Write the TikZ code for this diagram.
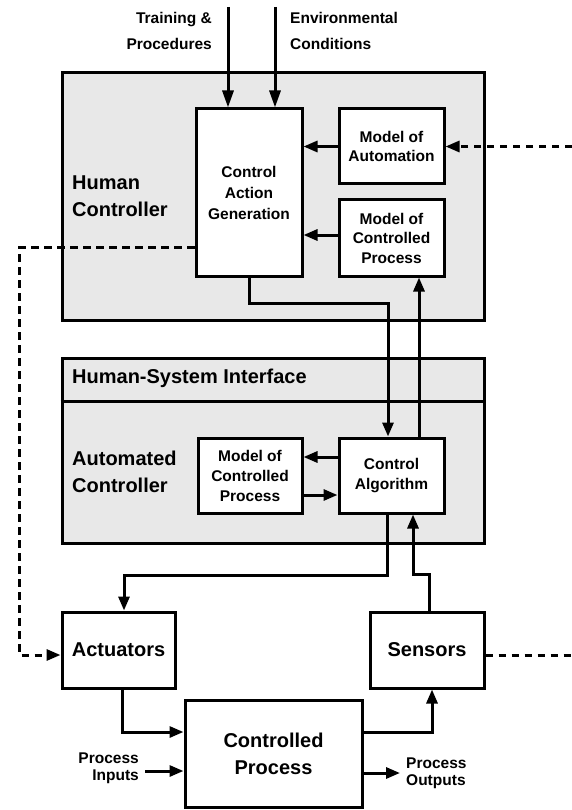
\documentclass[tikz,border=0pt]{standalone}
\usepackage{fontspec}
\setmainfont{Liberation Sans}
\usetikzlibrary{arrows.meta,calc}
\definecolor{panel}{RGB}{232,232,232}
\tikzset{
  panelbox/.style={draw, line width=3pt, fill=panel, inner sep=0pt},
  box/.style={draw, line width=3pt, fill=white, inner sep=0pt, align=center,
    font=\bfseries\fontsize{15.5}{19.5}\selectfont},
  bigbox/.style={box, font=\bfseries\fontsize{20}{26.7}\selectfont},
  biglabel/.style={inner sep=0pt, align=left, anchor=west,
    font=\bfseries\fontsize{20}{26.7}\selectfont},
  smalllabel/.style={inner sep=0pt, font=\bfseries\fontsize{15.5}{26}\selectfont},
  flow/.style={line width=3pt, -{Triangle[length=14pt,width=11pt]}},
  longflow/.style={line width=3pt, -{Triangle[length=17pt,width=11pt]}},
  dotflow/.style={line width=3pt, dash pattern=on 7.5pt off 5.5pt},
}
\begin{document}
\begin{tikzpicture}[x=1pt,y=-1pt]
\useasboundingbox (0,0) rectangle (572,810);

% controller panels
\node[panelbox, minimum width=422pt, minimum height=247pt] (hc) at (273,196.5) {};
\node[panelbox, minimum width=422pt, minimum height=185pt] (hsi) at (273,450.5) {};
\coordinate (div) at (0,401);
\draw[line width=3pt] (hsi.west |- div) -- (hsi.east |- div);

\node[biglabel] (hclab) at (72,196.5) {Human\\Controller};
\node[biglabel] (hsilab) at (72,378) {Human-System Interface};
\node[biglabel] (aclab) at (72,471.5) {Automated\\Controller};

% human controller internals
\node[box, minimum width=106pt, minimum height=167pt, font=\bfseries\fontsize{15.5}{21}\selectfont]
  (cag) at (249,192.5) {Control\\Action\\Generation};
\node[box, minimum width=105pt, minimum height=75pt] (moa) at (391.5,146.5) {Model of\\Automation};
\node[box, minimum width=105pt, minimum height=76pt] (mocp) at (391.5,238) {Model of\\Controlled\\Process};

% automated controller internals
\node[box, minimum width=104pt, minimum height=75pt, font=\bfseries\fontsize{15.5}{20}\selectfont]
  (amocp) at (250,475.5) {Model of\\Controlled\\Process};
\node[box, minimum width=105pt, minimum height=75pt] (ca) at (391.5,475.5) {Control\\Algorithm};

% plant
\node[bigbox, minimum width=113pt, minimum height=76pt] (act) at (118.5,650) {Actuators};
\node[bigbox, minimum width=114pt, minimum height=76pt] (sen) at (427,650) {Sensors};
\node[bigbox, minimum width=177pt, minimum height=107pt] (cp) at (273.5,753.5) {Controlled\\Process};

% external inputs to the human controller
\coordinate (tin) at (228,7);
\coordinate (ein) at (275,7);
\draw[longflow] (tin) -- (tin |- cag.north);
\draw[longflow] (ein) -- (ein |- cag.north);
\node[smalllabel, align=right, anchor=east] (tlab) at (212,31) {Training \&\\Procedures};
\node[smalllabel, align=left, anchor=west] (elab) at (290,31) {Environmental\\Conditions};

% human controller internal flows
\draw[flow] (moa.west) -- (moa.west -| cag.east);
\draw[flow] ([yshift=3pt]mocp.west) -- ([yshift=3pt]mocp.west -| cag.east);

% dotted side channels
\coordinate (redge) at (572,0);
\draw[dotflow, -{Triangle[length=14pt,width=11pt]}] (redge |- moa.east) -- (moa.east);
\draw[dotflow, -{Triangle[length=14pt,width=11pt]}]
  ([yshift=-54.5pt]cag.west) -- ++(-175,0) |- ([yshift=-5pt]act.west);
\draw[dotflow] ([yshift=-5pt]sen.east) -- ([yshift=-5pt]sen.east -| redge);

% human controller <-> automation
\draw[flow] (cag.south) -- ++(0,26) -| ([xshift=-3.5pt]ca.north);
\draw[flow] ([xshift=27.5pt]ca.north) -- ([xshift=27.5pt]mocp.south);

% automated controller internal flows
\draw[flow] ([yshift=18.5pt]ca.west) -- ([yshift=18.5pt]amocp.east);
\draw[flow] ([yshift=-19.5pt]amocp.east) -- ([yshift=-19.5pt]ca.west);

% automation <-> plant
\draw[flow] ([xshift=-4.5pt]ca.south) -- ++(0,61) -| ([xshift=5.5pt]act.north);
\draw[flow] ([xshift=2pt]sen.north) -- ++(0,-36) -| ([xshift=21.5pt]ca.south);
\draw[flow] ([xshift=3.5pt]act.south) |- ([yshift=21.5pt]cp.west);
\draw[flow] ([yshift=21.5pt]cp.east) -| ([xshift=5pt]sen.south);

% process inputs and outputs
\coordinate (pin) at (145,771);
\coordinate (pout) at (400,773);
\draw[flow] (pin) -- (pin -| cp.west);
\draw[flow] (pout -| cp.east) -- (pout);
\node[smalllabel, align=right, anchor=east, font=\bfseries\fontsize{15.5}{17.5}\selectfont]
  (pinlab) at (139,768.5) {Process\\Inputs};
\node[smalllabel, align=left, anchor=west, font=\bfseries\fontsize{15.5}{17.5}\selectfont]
  (poutlab) at (406,773.5) {Process\\Outputs};
\end{tikzpicture}
\end{document}
